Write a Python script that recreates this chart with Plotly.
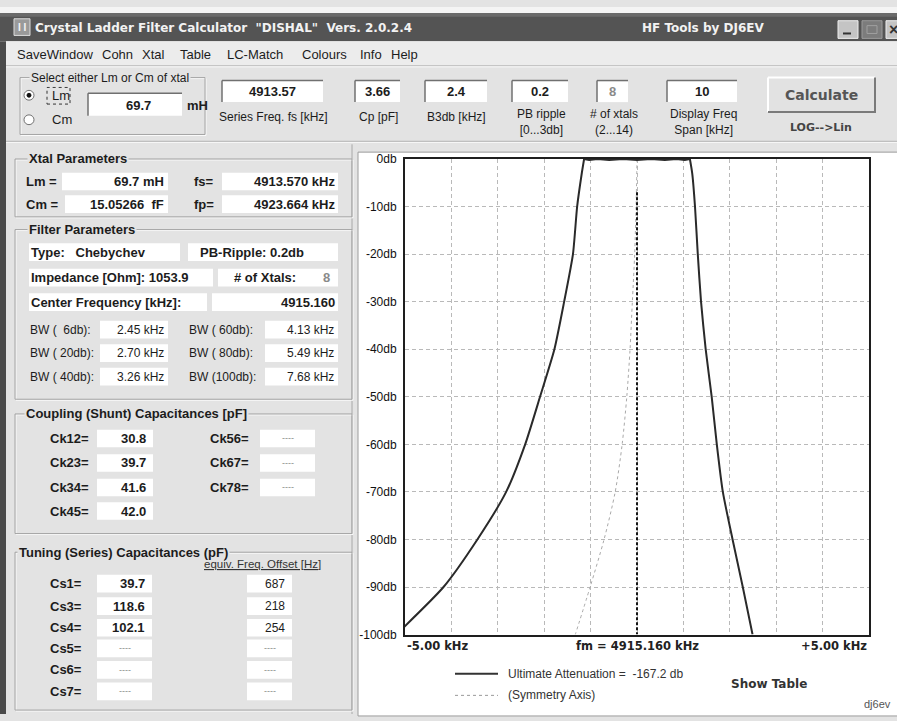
import plotly.graph_objects as go

W, H = 897, 721

# ---------------- chart data ----------------
resp_offset_khz = [-5.19, -4.17, -3.44, -2.82, -2.41, -2.09, -1.78, -1.57, -1.38, -1.29, -1.19,
                   -1.14, -1.03, -0.85, -0.60, -0.30, 0.00, 0.30, 0.60, 0.85, 1.03, 1.14,
                   1.19, 1.25, 1.31, 1.38, 1.48, 1.61, 1.72, 1.85, 2.06, 2.28, 2.49]
resp_db = [-100, -90, -80, -70, -60, -50, -40, -30, -20, -10, -3,
           0, -0.2, 0, -0.2, 0, -0.2, 0, -0.2, 0, -0.2, 0,
           -3, -10, -20, -30, -40, -50, -60, -70, -80, -90, -100]
sym_offset_khz = [0.00, -0.02, -0.05, -0.10, -0.15, -0.22, -0.32, -0.47, -0.71, -1.01, -1.33]
sym_db = [0, -10, -20, -30, -40, -50, -60, -70, -80, -90, -100]
center_offset_khz = [0, 0]
center_db = [-7, -100]
y_tick_vals = [0, -10, -20, -30, -40, -50, -60, -70, -80, -90, -100]
y_tick_text = ["0db", "-10db", "-20db", "-30db", "-40db", "-50db",
               "-60db", "-70db", "-80db", "-90db", "-100db"]
x_label_pos = [-5, 0, 5]
x_label_text = ["-5.00 kHz", "fm = 4915.160 kHz", "+5.00 kHz"]
legend_text = ["Ultimate Attenuation =  -167.2 db", "(Symmetry Axis)"]

# ---------------- window texts / values ----------------
title_text = 'Crystal Ladder Filter Calculator&nbsp;&nbsp;"DISHAL"&nbsp;&nbsp;Vers. 2.0.2.4'
title_right = "HF Tools by DJ6EV"
menu_items = ["SaveWindow", "Cohn", "Xtal", "Table", "LC-Match", "Colours", "Info", "Help"]
toolbar_values = ["4913.57", "3.66", "2.4", "0.2", "8", "10"]
toolbar_labels = ["Series Freq. fs [kHz]", "Cp [pF]", "B3db [kHz]", "PB ripple<br>[0...3db]",
                  "# of xtals<br>(2...14)", "Display Freq<br>Span [kHz]"]
lm_value = "69.7"
xtal_rows = [("Lm =", "69.7 mH", "fs=", "4913.570 kHz"),
             ("Cm =", "15.05266&nbsp;&nbsp;fF", "fp=", "4923.664 kHz")]
filter_rows = [("Type:&nbsp;&nbsp;&nbsp;Chebychev", "PB-Ripple: 0.2db"),
               ("Impedance [Ohm]: 1053.9", "# of Xtals:")]
n_xtals = "8"
center_freq = "4915.160"
bw_rows = [("BW (&nbsp;&nbsp;6db):", "2.45 kHz", "BW ( 60db):", "4.13 kHz"),
           ("BW ( 20db):", "2.70 kHz", "BW ( 80db):", "5.49 kHz"),
           ("BW ( 40db):", "3.26 kHz", "BW (100db):", "7.68 kHz")]
ck_names = ["Ck12=", "Ck23=", "Ck34=", "Ck45="]
ck_values = ["30.8", "39.7", "41.6", "42.0"]
ck_names2 = ["Ck56=", "Ck67=", "Ck78="]
ck_values2 = ["----", "----", "----"]
cs_names = ["Cs1=", "Cs3=", "Cs4=", "Cs5=", "Cs6=", "Cs7="]
cs_values = ["39.7", "118.6", "102.1", "----", "----", "----"]
cs_offsets = ["687", "218", "254", "----", "----", "----"]

# ---------------- helpers ----------------
ARIAL = "Liberation Sans, Arial, sans-serif"
DEJA = "DejaVu Sans, Verdana, sans-serif"
PANEL = "#e3e3e3"
shapes, annotations = [], []


def px(x):
    return x / W


def py(y):
    return 1 - y / H


def rect(x0, y0, x1, y1, fill=None, line=None, lw=1, dash=None, layer="below"):
    ln = dict(color=line if line else "rgba(0,0,0,0)", width=lw if line else 0)
    if dash:
        ln["dash"] = dash
    shapes.append(dict(type="rect", xref="paper", yref="paper",
                       x0=px(x0), x1=px(x1), y0=py(y1), y1=py(y0),
                       fillcolor=fill if fill else "rgba(0,0,0,0)", line=ln, layer=layer))


def seg(x0, y0, x1, y1, color, w=1, dash=None, layer="below"):
    ln = dict(color=color, width=w)
    if dash:
        ln["dash"] = dash
    shapes.append(dict(type="line", xref="paper", yref="paper",
                       x0=px(x0), x1=px(x1), y0=py(y0), y1=py(y1), line=ln, layer=layer))


def circ(cx, cy, r, fill, line, lw=1):
    shapes.append(dict(type="circle", xref="paper", yref="paper",
                       x0=px(cx - r), x1=px(cx + r), y0=py(cy + r), y1=py(cy - r),
                       fillcolor=fill, line=dict(color=line, width=lw), layer="below"))


def ann(x, y, s, size=12, bold=False, color="#1c1c1c", xa="left", fam=ARIAL, bg=None):
    d = dict(x=px(x), y=py(y), xref="paper", yref="paper",
             text=("<b>%s</b>" % s) if bold else s, showarrow=False,
             xanchor=xa, yanchor="middle", font=dict(size=size, color=color, family=fam))
    if bg:
        d["bgcolor"] = bg
    annotations.append(d)


def sunken(x0, y0, x1, y1):
    rect(x0, y0, x1, y1, fill="white")
    seg(x0, y0, x1, y0, "#707070", 1.5)
    seg(x0, y0, x0, y1, "#707070", 1.5)


def group(x0, y0, x1, y1, label, lx):
    rect(x0 + 1, y0 + 1, x1 + 1, y1 + 1, line="#fbfbfb", lw=1)
    rect(x0, y0, x1, y1, line="#a4a4a4", lw=1)
    if label:
        ann(lx, y0, label, 13, True, bg=PANEL)


# ---------------- window chrome ----------------
rect(0, 0, W, 6, fill="#f4f4f4")
rect(0, 6, W, 35, fill="#545454")
rect(0, 6, W, 10, fill="#6a6a6a")
rect(14, 12, 30, 29, fill="#9a9a9a", line="#dcdcdc")
ann(22, 21, "<b>I I</b>", 10, False, "#f5f5f5", "center")
ann(33, 21, title_text, 12, True, "#f2f2f2", fam=DEJA)
ann(640, 21, title_right, 12, True, "#f2f2f2", fam=DEJA)
rect(838, 14, 858, 32, fill="#c4c4c4", line="#eeeeee")
seg(843, 27, 851, 27, "#333", 2)
rect(862, 14, 882, 32, fill="#7c7c7c", line="#9a9a9a")
rect(867, 19, 877, 27, line="#a0a0a0")
rect(886, 14, 906, 32, fill="#c4c4c4", line="#eeeeee")
ann(893, 23, "<b>×</b>", 16, False, "#333", "center")
rect(0, 35, W, 60, fill="#ececec")
seg(0, 60, W, 60, "#b4b4b4", 1)
seg(0, 61, W, 61, "#fafafa", 1)
rect(0, 35, 6, H, fill="#4a4a4a")
menu_x = [15, 100, 140, 178, 225, 300, 358, 389]
for mx, m in zip(menu_x, menu_items):
    ann(mx, 48, m, 13)
seg(6, 137, W, 137, "#a8a8a8", 1)
seg(6, 138, W, 138, "#fafafa", 1)

# ---------------- toolbar ----------------
group(20, 72, 205, 130, "", 30)
ann(29, 72, "Select either Lm or Cm of xtal", 12, bg=PANEL)
circ(29, 90, 5, "white", "#707070")
circ(29, 90, 2, "#111", "#111")
circ(29, 115, 5, "white", "#707070")
rect(47, 82, 70, 99, line="#333", lw=1, dash="dot")
ann(50, 90, "Lm", 13)
ann(50, 115, "Cm", 13)
sunken(88, 88, 182, 111)
ann(138, 100, lm_value, 13, True, xa="center")
ann(185, 100, "mH", 13, True)

tb_boxes = [(222, 323), (355, 400), (425, 487), (512, 568), (597, 628), (667, 737)]
for (bx0, bx1), val, lab in zip(tb_boxes, toolbar_values, toolbar_labels):
    sunken(bx0, 75, bx1, 97)
    c = (bx0 + bx1) / 2
    col = "#8a8a8a" if val == "8" else "#1c1c1c"
    ann(c, 86, val, 13, True, col, "center")
    ann(c + 1, 117 if "<br>" in lab else 112, lab, 12, xa="center")

# Calculate button
rect(768, 72, 875, 107, fill="#e2e2e2")
seg(768, 72, 875, 72, "#ffffff", 2)
seg(768, 72, 768, 107, "#ffffff", 2)
seg(768, 107, 876, 107, "#7a7a7a", 2)
seg(875, 72, 875, 107, "#7a7a7a", 2)
ann(821, 90, "Calculate", 14, True, "#555555", "center", fam=DEJA)
ann(821, 123, "LOG-->Lin", 11, True, "#444444", "center", fam=DEJA)

# ---------------- left panel ----------------
seg(352, 140, 352, H, "#a8a8a8", 1)

group(15, 155, 352, 214, "Xtal Parameters", 27)
for yy, (l1, v1, l2, v2) in zip([178, 201], xtal_rows):
    rect(62 if yy == 178 else 65, yy - 9, 168, yy + 9, fill="white")
    rect(222, yy - 9, 338, yy + 9, fill="white")
    ann(24, yy, l1, 13, True)
    ann(166, yy, v1, 13, True, xa="right")
    ann(192, yy, l2, 13, True)
    ann(337, yy, v2, 13, True, xa="right")

group(15, 227, 352, 400, "Filter Parameters", 27)
rect(29, 241, 180, 259, fill="white")
rect(188, 241, 338, 259, fill="white")
rect(29, 267, 213, 285, fill="white")
rect(218, 267, 338, 285, fill="white")
rect(29, 292, 207, 310, fill="white")
rect(212, 292, 338, 310, fill="white")
ann(29, 250, filter_rows[0][0], 13, True)
ann(198, 250, filter_rows[0][1], 13, True)
ann(29, 276, filter_rows[1][0], 13, True)
ann(232, 276, filter_rows[1][1], 13, True)
ann(332, 276, n_xtals, 13, True, "#8a8a8a", "right")
ann(29, 301, "Center Frequency [kHz]:", 13, True)
ann(337, 301, center_freq, 13, True, xa="right")
for yy, (l1, v1, l2, v2) in zip([329, 353, 377], bw_rows):
    rect(100, yy - 9, 168, yy + 9, fill="white")
    rect(265, yy - 9, 338, yy + 9, fill="white")
    ann(28, yy, l1, 12)
    ann(166, yy, v1, 12, xa="right")
    ann(187, yy, l2, 12)
    ann(336, yy, v2, 12, xa="right")

group(15, 415, 352, 537, "Coupling (Shunt) Capacitances [pF]", 24)
for yy, n, v in zip([440, 465, 490, 514], ck_names, ck_values):
    rect(97, yy - 9, 153, yy + 9, fill="white")
    ann(48, yy, n, 13, True)
    ann(148, yy, v, 13, True, xa="right")
for yy, n, v in zip([440, 465, 490], ck_names2, ck_values2):
    rect(260, yy - 9, 315, yy + 9, fill="white")
    ann(208, yy, n, 13, True)
    ann(288, yy, v, 9, False, "#8a8a8a", "center")

group(15, 556, 352, 717, "Tuning (Series) Capacitances (pF)", 17)
ann(202, 568, "<u>equiv. Freq. Offset [Hz]</u>", 11.5, False, "#333")
for yy, n, v, o in zip([588, 611, 633, 654, 676, 698], cs_names, cs_values, cs_offsets):
    rect(97, yy - 9, 152, yy + 9, fill="white")
    rect(247, yy - 9, 292, yy + 9, fill="white")
    ann(48, yy, n, 13, True)
    if v == "----":
        ann(125, yy, v, 9, False, "#8a8a8a", "center")
        ann(270, yy, o, 9, False, "#8a8a8a", "center")
    else:
        ann(147, yy, v, 13, True, xa="right")
        ann(287, yy, o, 12, xa="right")

# ---------------- chart panel ----------------
rect(358, 148, W + 2, H + 2, fill="white", line="#9c9c9c", lw=1)

fig = go.Figure()
fig.add_trace(go.Scatter(x=sym_offset_khz, y=sym_db, mode="lines",
                         line=dict(color="#a9a9a9", width=1, dash="dot", shape="spline",
                                   smoothing=0.8), hoverinfo="skip"))
fig.add_trace(go.Scatter(x=center_offset_khz, y=center_db, mode="lines",
                         line=dict(color="#151515", width=2, dash="3px,2px"), hoverinfo="skip"))
# response: smooth skirts, linear ripple passband
left_n, right_n = 12, 21
fig.add_trace(go.Scatter(x=resp_offset_khz[:left_n], y=resp_db[:left_n], mode="lines",
                         line=dict(color="#2a2a2a", width=2, shape="spline", smoothing=0.6),
                         hoverinfo="skip"))
fig.add_trace(go.Scatter(x=resp_offset_khz[left_n - 1:right_n + 1], y=resp_db[left_n - 1:right_n + 1],
                         mode="lines", line=dict(color="#2a2a2a", width=2), hoverinfo="skip"))
fig.add_trace(go.Scatter(x=resp_offset_khz[right_n:], y=resp_db[right_n:], mode="lines",
                         line=dict(color="#2a2a2a", width=2, shape="spline", smoothing=0.6),
                         hoverinfo="skip"))

for xv, t in zip(x_label_pos, x_label_text):
    annotations.append(dict(x=xv, y=py(652), xref="x", yref="paper", text="<b>%s</b>" % t,
                            showarrow=False, xanchor={-5: "left", 0: "center", 5: "right"}[xv],
                            yanchor="middle", font=dict(size=11.5, color="#222", family=DEJA)))

seg(455, 680, 498, 680, "#333333", 2, layer="above")
seg(455, 702, 498, 702, "#9a9a9a", 1, dash="dot", layer="above")
ann(506, 680, legend_text[0], 12, False, "#333")
ann(506, 702, legend_text[1], 12, False, "#333")
ann(769, 690, "Show Table", 12, True, "#333", "center", fam=DEJA)
ann(893, 711, "dj6ev", 11, False, "#555", "right")

fig.update_layout(
    width=W, height=H, margin=dict(l=0, r=0, t=0, b=0),
    paper_bgcolor=PANEL, plot_bgcolor="white", showlegend=False,
    shapes=shapes, annotations=annotations,
    xaxis=dict(domain=[405 / W, 869 / W], range=[-5, 5], tick0=0, dtick=1,
               showgrid=True, gridcolor="#b9b9b9", griddash="4px,3px", gridwidth=1,
               zeroline=False, showline=True, mirror=True, linecolor="#1e1e1e",
               linewidth=2, showticklabels=False, ticks="", fixedrange=True),
    yaxis=dict(domain=[1 - 640 / H, 1 - 155 / H], range=[-100, 0],
               tickvals=y_tick_vals, ticktext=y_tick_text,
               tickfont=dict(size=12, color="#111", family=ARIAL), ticklabelstandoff=4,
               showgrid=True, gridcolor="#b9b9b9", griddash="4px,3px", gridwidth=1,
               zeroline=False, showline=True, mirror=True, linecolor="#1e1e1e",
               linewidth=2, ticks="", fixedrange=True),
)

fig.write_html("out.html", config={"displayModeBar": False},
               post_script="document.body.style.margin='0';document.body.style.overflow='hidden';")
